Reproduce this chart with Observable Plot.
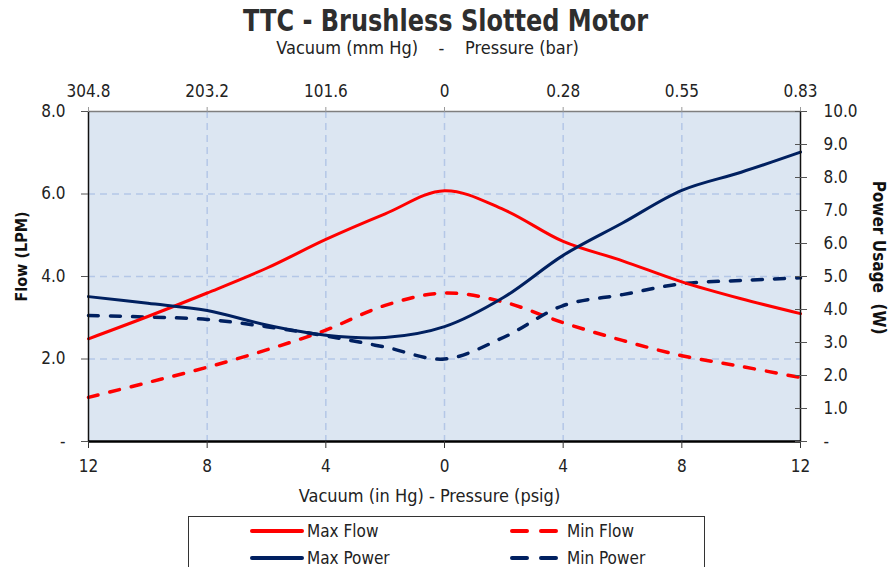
<!DOCTYPE html>
<html>
<head>
<meta charset="utf-8">
<script src="https://cdn.jsdelivr.net/npm/d3@7"></script>
<script src="https://cdn.jsdelivr.net/npm/@observablehq/plot@0.6"></script>
<style>
  html, body { margin: 0; padding: 0; background: #fff; }
  body { width: 891px; height: 567px; overflow: hidden; position: relative; font-family: "DejaVu Sans Condensed", "DejaVu Sans", sans-serif; color: #222; }
  #title { position: absolute; left: 0; top: 3px; width: 891px; text-align: center; font-weight: bold; font-size: 30px; color: #2e2e2e; transform: scaleX(0.89); transform-origin: 446px 0; }
  #subtitle { position: absolute; left: -18px; top: 37px; width: 891px; text-align: center; font-size: 18px; white-space: pre; color: #222; }
  #chart { position: absolute; left: 0; top: 60px; }
  #legend { position: absolute; left: 188px; top: 516px; width: 517px; height: 80px; border: 1px solid #333; box-sizing: border-box; background: #fff; }
  .item { position: absolute; display: flex; align-items: center; font-size: 17px; height: 20px; line-height: 20px; }
</style>
</head>
<body>
<div id="title">TTC - Brushless Slotted Motor</div>
<div id="subtitle">Vacuum (mm Hg)    -    Pressure (bar)</div>
<div id="chart"></div>
<div id="legend"></div>
<script>
// Data
const xVals    = [-12, -10, -8, -6, -4, -2, 0, 2, 4, 6, 8, 10, 12];
const maxFlow  = [2.49, 3.03, 3.60, 4.20, 4.90, 5.52, 6.08, 5.62, 4.85, 4.38, 3.87, 3.46, 3.10];
const minFlow  = [1.07, 1.43, 1.80, 2.22, 2.70, 3.30, 3.60, 3.38, 2.88, 2.45, 2.08, 1.82, 1.55];
const maxPower = [4.39, 4.19, 3.97, 3.53, 3.22, 3.15, 3.48, 4.37, 5.64, 6.62, 7.61, 8.16, 8.77];
const minPower = [3.82, 3.77, 3.70, 3.48, 3.20, 2.86, 2.50, 3.16, 4.12, 4.45, 4.78, 4.88, 4.96];

const xTicks = [-12, -8, -4, 0, 4, 8, 12];
const bottomLabels = ["12", "8", "4", "0", "4", "8", "12"];
const topLabels = ["304.8", "203.2", "101.6", "0", "0.28", "0.55", "0.83"];
const flowTicks = [0, 2, 4, 6, 8];
const flowLabels = ["-", "2.0", "4.0", "6.0", "8.0"];
const powerTicks = [0, 1, 2, 3, 4, 5, 6, 7, 8, 9, 10];
const powerLabels = ["-", "1.0", "2.0", "3.0", "4.0", "5.0", "6.0", "7.0", "8.0", "9.0", "10.0"];
const gridXVals = [-8, -4, 0, 4, 8];
const gridYVals = [2, 4, 6];

const flowMax = 8, powerMax = 10;
const p2f = p => p * flowMax / powerMax;
const powerTickPos = powerTicks.map(p2f);

const seriesNames = ["Max Flow", "Min Flow", "Max Power", "Min Power"];
const red = "#ff0000", navy = "#002060";

const rows = [];
xVals.forEach((x, i) => {
  rows.push({x, y: maxFlow[i], s: "Max Flow"});
  rows.push({x, y: minFlow[i], s: "Min Flow"});
  rows.push({x, y: p2f(maxPower[i]), s: "Max Power"});
  rows.push({x, y: p2f(minPower[i]), s: "Min Power"});
});
const sel = s => rows.filter(r => r.s === s);

const chart = Plot.plot({
  width: 891,
  height: 450,
  marginTop: 51,
  marginBottom: 69,
  marginLeft: 88,
  marginRight: 91,
  x: {domain: [-12, 12]},
  y: {domain: [0, flowMax]},
  style: {fontFamily: "'DejaVu Sans Condensed', 'DejaVu Sans', sans-serif", fontSize: "17px", color: "#222", background: "transparent"},
  marks: [
    Plot.frame({fill: "#dce6f2", stroke: null}),
    Plot.gridX(gridXVals, {stroke: "#b4c7e7", strokeOpacity: 1, strokeWidth: 1.5, strokeDasharray: "7,5"}),
    Plot.gridY(gridYVals, {stroke: "#b4c7e7", strokeOpacity: 1, strokeWidth: 1.5, strokeDasharray: "7,5"}),
    Plot.line(sel("Min Flow"), {x: "x", y: "y", stroke: red, strokeWidth: 3.5, strokeDasharray: "10,12", strokeLinecap: "round", curve: "catmull-rom"}),
    Plot.line(sel("Min Power"), {x: "x", y: "y", stroke: navy, strokeWidth: 3.5, strokeDasharray: "10,12", strokeLinecap: "round", curve: "catmull-rom"}),
    Plot.line(sel("Max Flow"), {x: "x", y: "y", stroke: red, strokeWidth: 3, curve: "catmull-rom"}),
    Plot.line(sel("Max Power"), {x: "x", y: "y", stroke: navy, strokeWidth: 3, curve: "catmull-rom"}),
    // spines
    Plot.ruleY([flowMax], {stroke: "#7f7f7f", strokeWidth: 1.5}),
    Plot.ruleX([12], {stroke: "#111", strokeWidth: 1.5}),
    Plot.ruleX([-12], {stroke: "#111", strokeWidth: 1.5}),
    Plot.ruleY([0], {stroke: "#000", strokeWidth: 2.5}),
    // axes
    Plot.axisX({anchor: "bottom", ticks: xTicks, tickFormat: d => bottomLabels[xTicks.indexOf(d)], tickSize: 7, tickPadding: 11, label: null, stroke: "#333"}),
    Plot.axisX({anchor: "top", ticks: xTicks, tickFormat: d => topLabels[xTicks.indexOf(d)], tickSize: 5, tickPadding: 10, label: null, stroke: "#999"}),
    Plot.axisY({anchor: "left", ticks: flowTicks, tickFormat: d => flowLabels[flowTicks.indexOf(d)], tickSize: 7, tickPadding: 16, label: null, stroke: "#555"}),
    Plot.axisY({anchor: "right", ticks: powerTickPos, tickFormat: d => powerLabels[powerTickPos.indexOf(d)], tickSize: 12, dx: -6, tickPadding: 17, label: null, stroke: "#555"}),
    // axis titles
    Plot.text(["Flow (LPM)"], {frameAnchor: "left", dx: -67, dy: -20, rotate: -90, textAnchor: "middle", lineAnchor: "middle", fontWeight: "bold", fontSize: 16, fill: "#111"}),
    Plot.text(["Power Usage  (W)"], {frameAnchor: "right", dx: 78, dy: -19, rotate: 90, textAnchor: "middle", lineAnchor: "middle", fontWeight: "bold", fontSize: 17, fill: "#111"}),
    Plot.text(["Vacuum (in Hg) - Pressure (psig)"], {frameAnchor: "bottom", dx: -15, dy: 55, textAnchor: "middle", lineAnchor: "middle", fontSize: 18, fill: "#222"})
  ]
});
document.getElementById("chart").appendChild(chart);

// Legend
const legendItems = [
  {name: seriesNames[0], color: red, dash: null, left: 61, top: 4},
  {name: seriesNames[1], color: red, dash: "15,14", left: 321, top: 4},
  {name: seriesNames[2], color: navy, dash: null, left: 61, top: 31},
  {name: seriesNames[3], color: navy, dash: "15,14", left: 321, top: 31}
];
const legend = document.getElementById("legend");
legendItems.forEach(it => {
  const d = document.createElement("div");
  d.className = "item";
  d.style.left = it.left + "px";
  d.style.top = it.top + "px";
  const w = it.dash ? 46 : 52;
  d.innerHTML = `<svg width="${w + 2}" height="10" style="margin-right:${it.dash ? 9 : 3}px"><line x1="2" y1="5" x2="${w}" y2="5" stroke="${it.color}" stroke-width="4" stroke-linecap="round" ${it.dash ? `stroke-dasharray="${it.dash}"` : ""}/></svg><span>${it.name}</span>`;
  legend.appendChild(d);
});
</script>
</body>
</html>
